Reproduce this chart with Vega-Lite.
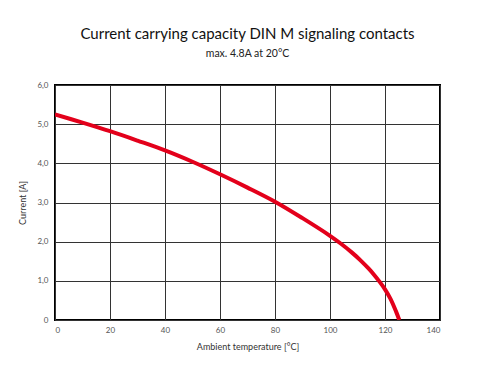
{
  "$schema": "https://vega.github.io/schema/vega-lite/v6.json",
  "width": 385,
  "height": 235,
  "autosize": {"type": "none"},
  "padding": {"left": 55, "top": 85, "right": 60, "bottom": 65},
  "background": "white",
  "title": {
    "text": "Current carrying capacity DIN M signaling contacts",
    "subtitle": "max. 4.8A at 20°C",
    "anchor": "middle",
    "font": "Lato",
    "fontSize": 15,
    "fontWeight": "normal",
    "color": "#111111",
    "subtitleFont": "Lato",
    "subtitleFontSize": 10.5,
    "subtitleColor": "#222222",
    "subtitlePadding": 7,
    "offset": 22
  },
  "config": {
    "view": {"stroke": "#000000", "strokeWidth": 2},
    "axis": {
      "domain": false,
      "ticks": false,
      "grid": true,
      "gridColor": "#333333",
      "gridOpacity": 1,
      "gridWidth": 1,
      "labelFont": "Lato",
      "labelFontSize": 8,
      "labelColor": "#555555",
      "titleFont": "Lato",
      "titleFontSize": 9,
      "titleFontWeight": "normal",
      "titleColor": "#333333"
    }
  },
  "data": {
    "values": [
      {"t": 0, "i": 5.25},
      {"t": 10, "i": 5.04},
      {"t": 20, "i": 4.82},
      {"t": 30, "i": 4.58},
      {"t": 40, "i": 4.33},
      {"t": 50, "i": 4.04},
      {"t": 60, "i": 3.72},
      {"t": 70, "i": 3.38},
      {"t": 80, "i": 3.02},
      {"t": 90, "i": 2.6},
      {"t": 100, "i": 2.15},
      {"t": 104, "i": 1.946},
      {"t": 108, "i": 1.72},
      {"t": 111, "i": 1.53},
      {"t": 114, "i": 1.316},
      {"t": 116, "i": 1.156},
      {"t": 118, "i": 0.98},
      {"t": 120, "i": 0.784},
      {"t": 122, "i": 0.54},
      {"t": 124, "i": 0.22},
      {"t": 125.2, "i": 0}
    ]
  },
  "mark": {"type": "line", "color": "#e3001b", "strokeWidth": 4, "interpolate": "catmull-rom", "clip": true},
  "encoding": {
    "x": {
      "field": "t",
      "type": "quantitative",
      "scale": {"domain": [0, 140], "nice": false},
      "axis": {"values": [0, 20, 40, 60, 80, 100, 120, 140], "title": "Ambient temperature [°C]", "labelPadding": 6, "titlePadding": 8}
    },
    "y": {
      "field": "i",
      "type": "quantitative",
      "scale": {"domain": [0, 6], "nice": false},
      "axis": {
        "values": [0, 1, 2, 3, 4, 5, 6],
        "title": "Current [A]",
        "labelPadding": 7,
        "titlePadding": 9,
        "labelExpr": "datum.value == 0 ? '0' : replace(format(datum.value, '.1f'), '.', ',')"
      }
    }
  }
}
